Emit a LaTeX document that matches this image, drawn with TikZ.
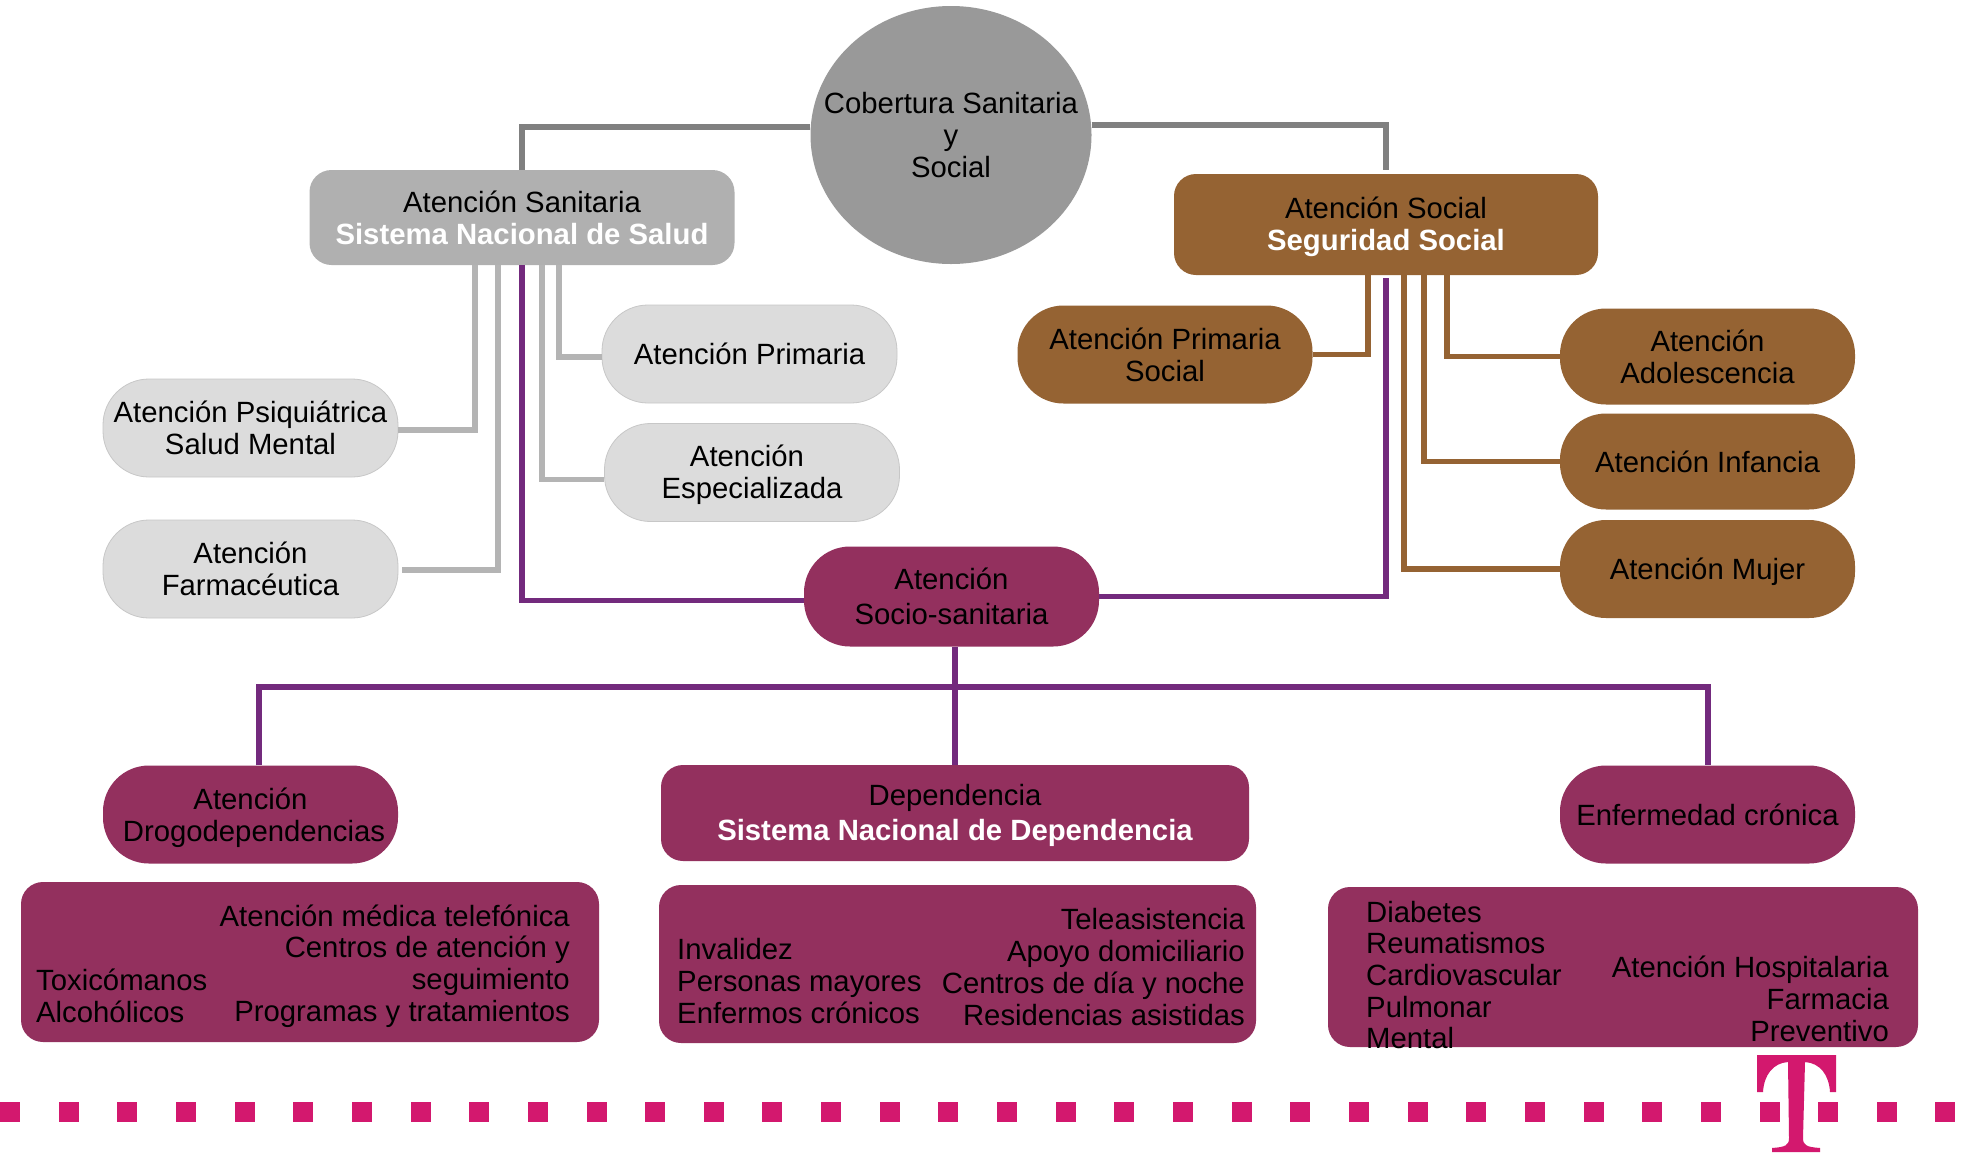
\documentclass[tikz,border=0pt]{standalone}
\usepackage{fontspec}
\usetikzlibrary{shapes.geometric}
\setmainfont{Liberation Sans}
\definecolor{plum}{HTML}{93305E}
\definecolor{brownc}{HTML}{956333}
\definecolor{lgray}{HTML}{DCDCDC}
\definecolor{mgray}{HTML}{B0B0B0}
\definecolor{cgray}{HTML}{999999}
\definecolor{lineg}{HTML}{B4B4B4}
\definecolor{lined}{HTML}{808080}
\definecolor{linep}{HTML}{732A7D}
\definecolor{pinkc}{HTML}{D3186E}
\newcommand{\wb}[1]{{\color{white}\bfseries #1}}
\tikzset{
  x=1pt,y=-1pt,
  base/.style={font=\fontsize{29.3}{31.7}\selectfont,align=center,inner sep=0pt,text=black},
  wide/.style={font=\fontsize{29.3}{35}\selectfont},
  pill/.style={base,rectangle,rounded corners=46pt,minimum width=295pt,minimum height=98pt},
  lightpill/.style={pill,fill=lgray,draw=black!22,line width=0.8pt},
  brownpill/.style={pill,fill=brownc},
  plumpill/.style={pill,fill=plum},
  headbox/.style={base,rectangle,rounded corners=22pt},
  listbox/.style={rectangle,rounded corners=22pt,fill=plum,inner sep=0pt},
  listl/.style={base,align=left,anchor=west},
  listr/.style={base,align=right,anchor=east},
  linkbase/.style={line width=5.6pt},
  lineL/.style={linkbase,draw=lineg},
  lineD/.style={linkbase,draw=lined},
  lineB/.style={linkbase,draw=brownc},
  lineP/.style={linkbase,draw=linep},
  sq/.style={fill=pinkc,inner sep=0pt,minimum width=20pt,minimum height=20pt}
}
\begin{document}
\begin{tikzpicture}
\useasboundingbox[fill=white] (0,0) rectangle (1962,1152);

\node[ellipse,fill=cgray,inner sep=0pt,minimum width=281pt,minimum height=258pt] (cob) at (951,135) {};
\node[base] (cobt) at (cob.center) {Cobertura Sanitaria\\y\\Social};
\node[headbox,fill=mgray,minimum width=425pt,minimum height=95pt] (san) at (522,217.5) {Atención Sanitaria\\\wb{Sistema Nacional de Salud}};
\node[headbox,fill=brownc,minimum width=424pt,minimum height=101pt] (soc) at (1386,224.5) {};
\node[base,yshift=-2.5pt] (soct) at (soc.center) {Atención Social\\\wb{Seguridad Social}};
\node[lightpill] (prim) at (749.5,354) {Atención Primaria};
\node[lightpill] (esp) at (752,472.5) {};
\node[base,yshift=-2.5pt] (espt) at (esp.center) {Atención\hspace*{10pt}\\Especializada};
\node[lightpill] (psi) at (250.5,428) {Atención Psiquiátrica\\Salud Mental};
\node[lightpill] (far) at (250.5,569) {Atención\\Farmacéutica};
\node[brownpill] (aps) at (1165,354.5) {Atención Primaria\\Social};
\node[brownpill,minimum height=96pt] (ado) at (1707.5,356.5) {Atención\\Adolescencia};
\node[brownpill,minimum height=96pt] (inf) at (1707.5,461.5) {Atención Infancia};
\node[brownpill] (muj) at (1707.5,569) {};
\node[base,yshift=-3pt] (mujt) at (muj.center) {Atención Mujer};
\node[plumpill,wide,minimum height=100pt] (sos) at (951.5,596.5) {Atención\\Socio-sanitaria};
\node[plumpill] (dro) at (250.5,814.5) {};
\node[base,yshift=-3pt] (drot) at (dro.center) {Atención\\\hspace*{7pt}Drogodependencias};
\node[headbox,fill=plum,minimum width=588pt,minimum height=96pt] (dep) at (955,813) {};
\node[base,wide,yshift=-2.5pt] (dept) at (dep.center) {Dependencia\\\wb{Sistema Nacional de Dependencia}};
\node[plumpill] (enf) at (1707.5,814.5) {Enfermedad crónica};

\node[listbox,minimum width=578pt,minimum height=160pt] (b1) at (310,962) {};
\node[listbox,minimum width=597pt,minimum height=158pt] (b2) at (957.5,964) {};
\node[listbox,minimum width=590pt,minimum height=160pt] (b3) at (1623,967) {};

\node[listl] (b1l) at (36,996) {Toxicómanos\\Alcohólicos};
\node[listr] (b1r) at (570,966) {Atención médica telefónica\\Centros de atención y\\seguimiento\\Programas y tratamientos};
\node[listl] (b2l) at (677,981) {Invalidez\\Personas mayores\\Enfermos crónicos};
\node[listr] (b2r) at (1245,967) {Teleasistencia\\Apoyo domiciliario\\Centros de día y noche\\Residencias asistidas};
\node[listl] (b3l) at (1366,975) {Diabetes\\Reumatismos\\Cardiovascular\\Pulmonar\\Mental};
\node[listr] (b3r) at (1889,999) {Atención Hospitalaria\\Farmacia\\Preventivo};

\draw[lineD] (cob.west |- 0,127) -- (522,127) -- (san.north);
\draw[lineD] (cob.east |- 0,125) -- (1386,125) -- ([yshift=4pt]soc.north);

\draw[lineL] (san.south -| 475,0) |- ([yshift=-2pt]psi.east);
\draw[lineL] (san.south -| 498,0) |- ([xshift=4pt,yshift=-1pt]far.east);
\draw[lineL] (san.south -| 542,0) |- ([yshift=-7pt]esp.west);
\draw[lineL] (san.south -| 559,0) |- ([yshift=-3pt]prim.west);

\draw[lineP] (san.south) |- ([yshift=-4pt]sos.west);
\draw[lineP] (sos.east) -| ([yshift=-3pt]soc.south);

\draw[lineB] (soc.south -| 1368,0) |- (aps.east);
\draw[lineB] (soc.south -| 1447,0) |- (ado.west);
\draw[lineB] (soc.south -| 1424,0) |- (inf.west);
\draw[lineB] (soc.south -| 1404,0) |- (muj.west);

\draw[lineP] (sos.south -| dep.north) -- (dep.north);
\draw[lineP] (dro.north -| 259,0) |- (dep.north |- 0,687) -| (enf.north -| 1708,0);

\foreach \i in {0,...,33}{
  \node[sq] (s\i) at ({10+58.65*\i},1112) {};
}
% T logo
\fill[pinkc] (1757,1055) -- (1836,1055) -- (1836,1092) -- (1830,1092)
  .. controls (1829,1075) and (1820,1063) .. (1805,1062)
  -- (1803,1138) .. controls (1803,1145) and (1806,1147) .. (1820,1148) -- (1820,1152) -- (1772,1152) -- (1772,1148)
  .. controls (1786,1147) and (1789,1145) .. (1789,1138)
  -- (1788,1062) .. controls (1773,1063) and (1764,1075) .. (1763,1092) -- (1757,1092) -- cycle;
\end{tikzpicture}
\end{document}
